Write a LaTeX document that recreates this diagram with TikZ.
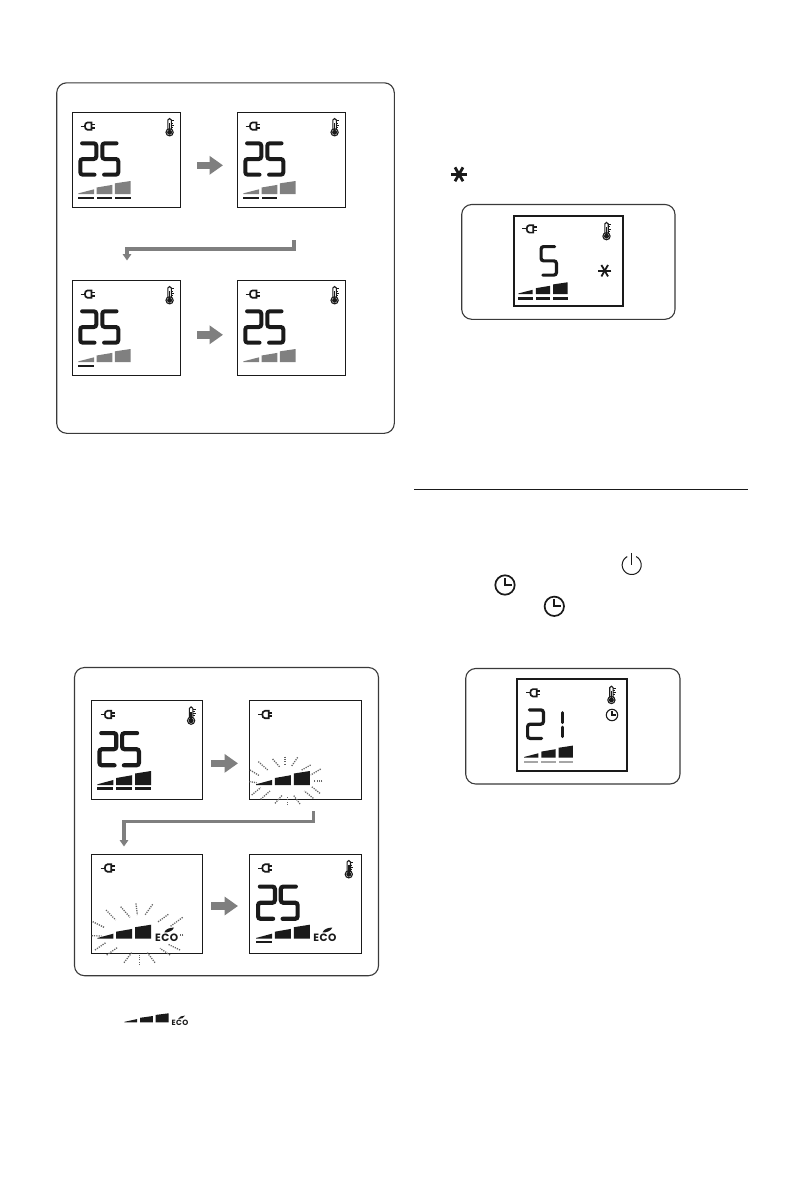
\documentclass[tikz,border=0pt]{standalone}
\usepackage{fontspec}
\setmainfont{Liberation Sans}
\newfontfamily\ecofont[LetterSpace=5]{Poppins}
\usetikzlibrary{arrows.meta,calc}
\definecolor{arrowgrey}{HTML}{7F7F7F}
\definecolor{bargrey}{HTML}{808080}
\definecolor{linegrey}{HTML}{A6A6A6}
\definecolor{ink}{HTML}{1A1A1A}
\definecolor{panelline}{HTML}{3A3A3A}
\tikzset{
  lcdframe/.style={draw=ink,fill=white,line width=#1,inner sep=0pt,outer sep=0pt,rectangle,anchor=north west},
  panelbox/.style={draw=panelline,line width=1.1pt,rounded corners=10pt},
  blockarrow/.style={draw=arrowgrey,line width=7.4pt,-{Triangle[length=13.5pt,width=18pt]},shorten >=0pt},
  elbowarrow/.style={draw=arrowgrey,line width=3.4pt,line join=miter,-{Triangle[length=6.5pt,width=8.5pt]}},
  rayline/.style={draw=black!60,line width=1.3pt,dash pattern=on 1.2pt off 1.1pt},
  seg/.style={draw=ink,line width=#1,rounded corners=2.5pt,line cap=round},
  ecotext/.style={font=\ecofont\fontsize{#1}{#1}\selectfont\bfseries,text=ink,inner sep=0pt,outer sep=0pt,anchor=base west},
}
\newcommand{\lcdbox}[6]{\node[lcdframe=#6,minimum width=#4pt,minimum height=#5pt] (#1) at (#2,#3) {};}
\newcommand{\plugicon}[2]{\begin{scope}[shift={(#1,#2)}]
  \draw[ink,line width=1.7pt] (10.8,0.8) -- (7,0.8) .. controls (3.4,0.8) and (3.4,8.2) .. (7,8.2) -- (10.8,8.2) -- cycle;
  \draw[ink,line width=1pt] (0,4.5) -- (4.4,4.5);
  \draw[ink,line width=1.7pt] (10.8,2.8) -- (14.4,2.8) (10.8,6.2) -- (14.4,6.2);
\end{scope}}
\newcommand{\thermoicon}[2]{\begin{scope}[shift={(#1,#2)}]
  \draw[ink,line width=1.1pt] (2.1,11.4) -- (2.1,1.7) .. controls (2.1,-0.3) and (5.5,-0.3) .. (5.5,1.7) -- (5.5,11.4);
  \draw[ink,line width=1.1pt] (3.8,14) circle (3.6pt);
  \fill[ink] (3.8,14) circle (2.5pt);
  \draw[ink,line width=1.7pt] (3.8,14) -- (3.8,5);
  \draw[ink,line width=0.8pt] (5.5,2.5) -- (8.3,2.5) (5.5,4.6) -- (7.3,4.6) (5.5,6.7) -- (8.3,6.7) (5.5,8.8) -- (7.3,8.8);
\end{scope}}
% digits: x y w h linewidth
\newcommand{\digittwo}[5]{\draw[seg=#5] ({#1+1.8+#5/2},{#2+#5/2}) -- ({#1+#3-#5/2},{#2+#5/2}) -- ({#1+#3-#5/2},{#2+#4/2}) -- ({#1+#5/2},{#2+#4/2}) -- ({#1+#5/2},{#2+#4-#5/2}) -- ({#1+#3-1.8-#5/2},{#2+#4-#5/2});}
\newcommand{\digitfive}[5]{\draw[seg=#5] ({#1+#3-1.8-#5/2},{#2+#5/2}) -- ({#1+#5/2},{#2+#5/2}) -- ({#1+#5/2},{#2+#4/2}) -- ({#1+#3-#5/2},{#2+#4/2}) -- ({#1+#3-#5/2},{#2+#4-#5/2}) -- ({#1+1.8+#5/2},{#2+#4-#5/2});}
% ramp: x ybottom w pitch H colour
\newcommand{\ramp}[6]{
  \fill[#6] (#1,#2) -- ({#1+#3},#2) -- ({#1+#3},{#2-0.36*#5}) -- (#1,{#2-0.05*#5}) -- cycle;
  \fill[#6] ({#1+#4},#2) -- ({#1+#4+#3},#2) -- ({#1+#4+#3},{#2-0.7*#5}) -- ({#1+#4},{#2-0.5*#5}) -- cycle;
  \fill[#6] ({#1+2*#4},#2) -- ({#1+2*#4+#3},#2) -- ({#1+2*#4+#3},{#2-#5}) -- ({#1+2*#4},{#2-0.82*#5}) -- cycle;
}
% underlines: x ytop w pitch count thickness colour
\newcommand{\ulines}[7]{\foreach \k in {1,...,#5}{\fill[#7] ({#1+(\k-1)*#4},#2) rectangle ({#1+(\k-1)*#4+#3},{#2+#6});}}
% ecomark: name x baseline size leafscale
\newcommand{\ecomark}[5]{
  \node[ecotext=#4] (#1) at (#2,#3) {ECO};
  \begin{scope}[shift={(#2,#3)},x=#5pt,y=-#5pt]
    \fill[ink] (9.3,-8.7) .. controls (10.5,-12) and (15,-13.5) .. (19,-13.4) .. controls (17.8,-10) and (13,-8.2) .. (9.3,-8.7) -- cycle;
  \end{scope}
}
\newcommand{\clockicon}[4]{
  \draw[ink,line width=#4pt] (#1,#2) circle (#3pt);
  \draw[ink,line width=#4pt] (#1,{#2-0.72*#3}) -- (#1,#2) -- ({#1+0.68*#3},#2);
}
\newcommand{\snow}[4]{\foreach \a in {0,60,120}{\draw[ink,line width=#4pt] ({#1+#3*cos(\a)},{#2+#3*sin(\a)}) -- ({#1-#3*cos(\a)},{#2-#3*sin(\a)});}}
\newcommand{\ray}[4]{\draw[rayline] ({70+#1/3},{660+#2/3}) -- ({70+#3/3},{660+#4/3});}
\begin{document}
\begin{tikzpicture}[x=1pt,y=-1pt]
\useasboundingbox (0,0) rectangle (805,1191);
\fill[white] (0,0) rectangle (805,1191);

% ---------- panel 1 ----------
\draw[panelbox] (56.7,82.8) rectangle (394.3,433.3);
\lcdbox{pa}{72.3}{112.3}{108.4}{95}{1pt}
\lcdbox{pb}{237.3}{112.3}{108.4}{95}{1pt}
\lcdbox{pc}{72.3}{280.3}{108.4}{95}{1pt}
\lcdbox{pd}{237.3}{280.3}{108.4}{95}{1pt}
\foreach \xx/\yy in {72.3/112.3,237.3/112.3,72.3/280.3,237.3/280.3}{
  \plugicon{\xx+8.3}{\yy+9.3}
  \thermoicon{\xx+93.5}{\yy+6}
  \digittwo{\xx+6}{\yy+29}{20}{35.4}{4}
  \digitfive{\xx+28}{\yy+29}{20}{35.4}{4}
  \ramp{\xx+6}{\yy+81.7}{15.7}{18.3}{13}{bargrey}
}
\ulines{78.3}{196.6}{15.7}{18.3}{3}{2}{ink}
\ulines{243.3}{196.6}{15.7}{18.3}{2}{2.3}{ink}
\ulines{78.3}{364.6}{15.7}{18.3}{1}{2.3}{ink}
\draw[blockarrow] ($(pa.east)+(16.3,5.5)$) -- ($(pb.west)+(-14.3,5.5)$);
\draw[blockarrow] ($(pc.east)+(16.3,7)$) -- ($(pd.west)+(-14.3,7)$);
\coordinate (ea) at (294,240);
\coordinate (em) at (127,249);
\coordinate (eb) at (127,260.5);
\draw[elbowarrow] (ea) |- (em) -- (eb);

% ---------- panel 2 ----------
\draw[panelbox] (74.5,667.5) rectangle (378.5,975.7);
\lcdbox{qa}{91.7}{700.7}{110.6}{98.3}{1pt}
\lcdbox{qb}{249.3}{700.7}{112}{98.3}{1pt}
\lcdbox{qc}{91.7}{854.3}{110.6}{99}{1pt}
\lcdbox{qd}{249.3}{854.3}{112}{99}{1pt}
\plugicon{100.5}{710}
\plugicon{258}{710}
\plugicon{100.5}{863.5}
\plugicon{258}{863.5}
\thermoicon{187.3}{706.7}
\thermoicon{345}{860.3}
\digittwo{97.4}{731}{21}{36.4}{4.2}
\digitfive{120}{731}{21}{36.4}{4.2}
\digittwo{256}{884.5}{21}{36.4}{4.2}
\digitfive{278.7}{884.5}{21}{36.4}{4.2}
\ramp{97.4}{785}{16}{18.8}{14}{ink}
\ramp{256}{785}{16}{18.9}{14}{ink}
\ramp{97.4}{938.7}{16}{18.8}{14}{ink}
\ramp{256}{938.7}{16}{18.9}{14}{ink}
\ulines{97.4}{787}{16}{18.8}{3}{2.6}{ink}
\ulines{256}{941}{16}{18.8}{1}{2.4}{ink}
\ecomark{ecoc}{155}{941}{10.6}{1}
\ecomark{ecod}{313.3}{941}{10.6}{1}
\draw[blockarrow] ($(qa.east)+(9,13.5)$) -- ($(qb.west)+(-11.3,13.5)$);
\draw[blockarrow] ($(qc.east)+(9,2.2)$) -- ($(qd.west)+(-11.3,2.2)$);
\coordinate (fa) at (313.7,811);
\coordinate (fm) at (124,821.3);
\coordinate (fb) at (124,846.5);
\draw[elbowarrow] (fa) |- (fm) -- (fb);
% rays, second LCD
\ray{565}{305}{593}{330}\ray{608}{297}{630}{322}\ray{645}{290}{645}{315}\ray{683}{292}{665}{318}
\ray{722}{315}{695}{330}\ray{752}{327}{722}{345}\ray{757}{363}{730}{363}\ray{750}{400}{725}{380}
\ray{730}{415}{703}{393}\ray{690}{432}{670}{405}\ray{653}{435}{653}{410}\ray{615}{430}{637}{405}
\ray{572}{418}{600}{393}\ray{545}{405}{572}{383}\ray{538}{365}{560}{368}\ray{540}{330}{568}{347}
% rays, third LCD
\ray{108}{750}{137}{780}\ray{152}{740}{180}{772}\ray{198}{730}{202}{765}\ray{248}{733}{225}{765}
\ray{295}{763}{262}{787}\ray{338}{772}{300}{800}\ray{340}{825}{328}{825}\ray{330}{870}{295}{853}
\ray{300}{885}{270}{865}\ray{255}{908}{232}{878}\ray{208}{915}{208}{882}\ray{162}{908}{185}{878}
\ray{110}{885}{143}{862}\ray{75}{870}{107}{848}\ray{65}{827}{95}{828}\ray{68}{785}{102}{802}

% ---------- top right ----------
\snow{459}{174.3}{8}{2.8}
\draw[panelbox] (461.7,204.5) rectangle (675,319.3);
\lcdbox{ra}{513.7}{215.7}{109.6}{90.3}{1.7pt}
\plugicon{522.4}{224.4}
\thermoicon{602.7}{222.2}
\digitfive{539.5}{245}{18.5}{31.7}{3.2}
\snow{604.7}{270.7}{6.6}{1.8}
\ramp{518.4}{294}{14.3}{17.4}{11.7}{ink}
\ulines{518.4}{297}{14.3}{17.4}{3}{2.6}{ink}

% ---------- rule ----------
\draw[ink,line width=1pt] (414,489) -- (748,489);

% ---------- icons in the text ----------
\draw[ink,line width=1pt] plot[domain=28:332,samples=50] ({631.7+9.5*sin(\x)},{565-9.5*cos(\x)});
\draw[ink,line width=1pt] (631.7,552.8) -- (631.7,565.2);
\clockicon{505}{585}{9.7}{1.7}
\clockicon{554.3}{606.3}{9.7}{1.7}

% ---------- lower right ----------
\draw[panelbox] (465.7,668.5) rectangle (680,784);
\lcdbox{sa}{517.3}{679.3}{110}{91.7}{1.7pt}
\plugicon{526}{688.3}
\thermoicon{607.6}{686}
\clockicon{612}{715}{5.7}{1.1}
\digittwo{526}{708.3}{19}{31.7}{3.2}
\draw[seg=3] (562.7,712.5) -- (562.7,722.5);
\draw[seg=3] (562.7,727) -- (562.7,736.5);
\ramp{524}{757.6}{14.3}{17.3}{12}{ink}
\ulines{524}{760.6}{14.3}{17.3}{3}{2.8}{linegrey}

% ---------- small inline ramp ----------
\ramp{124.3}{1022.3}{12.8}{15.7}{9}{ink}
\ecomark{ecoe}{171.7}{1025}{7.6}{0.7}
\end{tikzpicture}
\end{document}
